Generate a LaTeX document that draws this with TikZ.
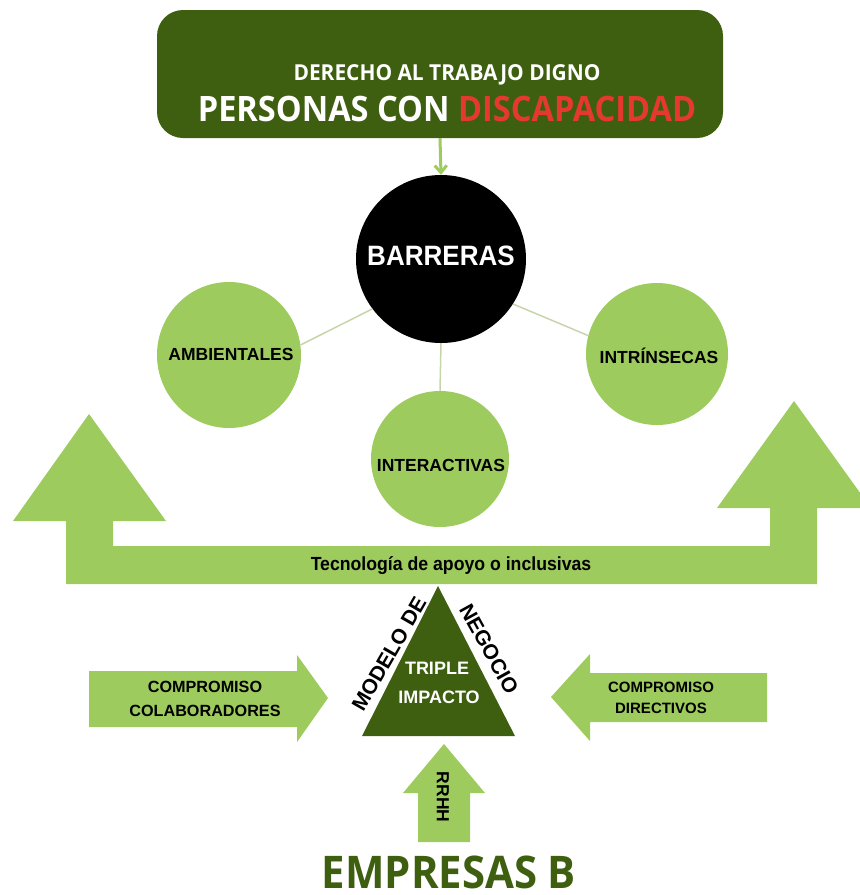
\documentclass[tikz,border=0pt]{standalone}
\usepackage{fontspec}
\setmainfont{Liberation Sans}
\newfontfamily\opensans{Open Sans}
\usetikzlibrary{shapes.geometric,arrows.meta}
\definecolor{dkgreen}{RGB}{63,95,16}
\definecolor{ltgreen}{RGB}{157,203,93}
\definecolor{dred}{RGB}{229,57,47}
\definecolor{linkc}{RGB}{200,212,170}
\newcommand{\fsz}[1]{\fontsize{#1pt}{#1pt}\selectfont}
\begin{document}
\begin{tikzpicture}[x=1pt,y=-1pt,
  lbl/.style={inner sep=0pt, align=center},
  blob/.style={ellipse, fill=ltgreen, inner sep=0pt},
  bigarrow/.style={fill=ltgreen},
  link/.style={draw=linkc, line width=1.5pt},
  ctext/.style={lbl, font=\bfseries\fsz{17.5}}]
\useasboundingbox (0,0) rectangle (860,895);
\clip (0,0) rectangle (860,895);

% top banner
\node[fill=dkgreen, rounded corners=26pt, minimum width=566pt, minimum height=128pt, inner sep=0pt] (top) at (440,74) {};
\node[lbl, text=white, font=\opensans\bfseries\addfontfeature{FakeStretch=0.95}\fsz{22}] (derecho) at (447,75) {DERECHO AL TRABAJO DIGNO};
\node[lbl, font=\opensans\bfseries\addfontfeature{FakeStretch=0.93}\fsz{35}] (personas) at (447,109)
  {\textcolor{white}{PERSONAS CON} \textcolor{dred}{DISCAPACIDAD}};

% barriers
\node[ellipse, fill=black, minimum width=170pt, minimum height=168pt, inner sep=0pt] (barr) at (441,259) {};
\node[lbl, text=white, font=\bfseries\addfontfeature{FakeStretch=0.93}\fsz{28}] (barrt) at (441,256) {BARRERAS};
\node[blob, minimum width=144pt, minimum height=146pt] (amb) at (229,355) {};
\node[blob, minimum width=142pt, minimum height=142pt] (intr) at (657,354) {};
\node[blob, minimum width=138pt, minimum height=136pt] (inter) at (440,459) {};
\node[ctext] (ambt) at (231,354) {AMBIENTALES};
\node[ctext] (intrt) at (659,356) {INTRÍNSECAS};
\node[ctext] (intert) at (441,465) {INTERACTIVAS};

\draw[link] (barr.216) -- (amb.8);
\draw[link] (barr.-32) -- (intr.165);
\draw[link] (barr.south) -- (inter.north);
\draw[ltgreen, line width=3pt, -{Straight Barb[length=7pt,width=12pt]}] (top.south) -- (barr.north);

% big U arrow
\path[bigarrow] (89,414) -- (166,521) -- (113,521) -- (113,546) -- (770,546) -- (770,508)
  -- (717,508) -- (794,401) -- (871,508) -- (817,508) -- (817,584) -- (66,584) -- (66,521)
  -- (13,521) -- cycle;
\node[lbl, font=\bfseries\addfontfeature{FakeStretch=0.93}\fsz{19}] (tec) at (451,566) {Tecnología de apoyo o inclusivas};

% triangle
\path[fill=dkgreen] (438,586) coordinate (apex) -- (515,736) coordinate (br) -- (362,736) coordinate (bl) -- cycle;
\node[lbl, text=white, font=\bfseries\fsz{18}] (triple) at (437,668) {TRIPLE};
\node[lbl, text=white, font=\bfseries\fsz{18}] (impacto) at (439,697) {IMPACTO};
\node[lbl, rotate=60, font=\bfseries\fsz{21}] (modelo) at (389,654) {MODELO DE};
\node[lbl, rotate=-61, font=\bfseries\fsz{21}] (negocio) at (489,649) {NEGOCIO};

% side arrows
\path[bigarrow] (89,671) -- (297,671) -- (297,655) -- (328,698) -- (297,742) -- (297,727) -- (89,727) -- cycle;
\node[lbl, font=\bfseries\fontsize{16.2pt}{24pt}\selectfont] (colab) at (205,699) {COMPROMISO\\COLABORADORES};
\path[bigarrow] (551,697) -- (590,654) -- (590,673) -- (767,673) -- (767,722) -- (590,722) -- (590,741) -- cycle;
\node[lbl, font=\bfseries\fontsize{15pt}{21pt}\selectfont] (direct) at (661,697.5) {COMPROMISO\\DIRECTIVOS};

% RRHH arrow
\path[bigarrow] (444,744) -- (485,793) -- (470,793) -- (470,842) -- (418,842) -- (418,793) -- (403,793) -- cycle;
\node[lbl, rotate=-90, font=\bfseries\fsz{17.5}] (rrhh) at (443,797) {RRHH};

% footer
\node[lbl, text=dkgreen, font=\opensans\bfseries\addfontfeature{FakeStretch=0.93}\fsz{45}] (emp) at (449,872) {EMPRESAS B};
\end{tikzpicture}
\end{document}
